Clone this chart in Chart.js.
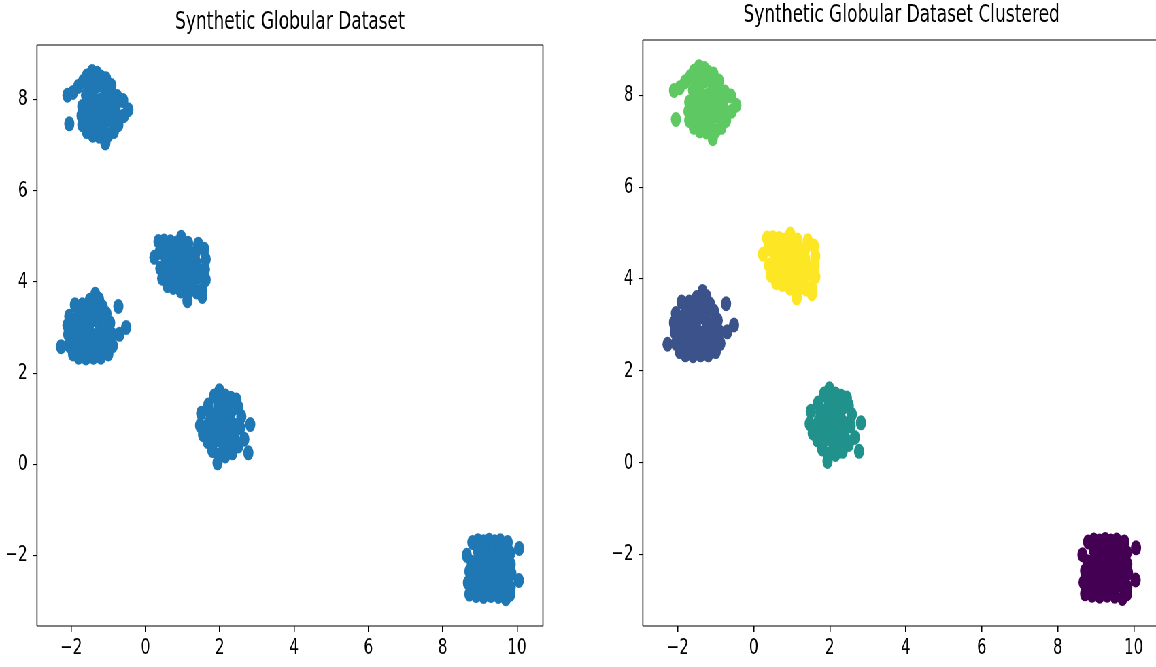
<!DOCTYPE html>
<html>
<head>
<meta charset="utf-8">
<script src="https://cdn.jsdelivr.net/npm/chart.js@4"></script>
<style>
  html, body { margin: 0; padding: 0; background: #fff; overflow: hidden; width: 1156px; height: 667px; }
  /* the reference figure is squeezed sideways, so draw wide and squeeze it */
  #stage { position: absolute; left: 0; top: 0; width: 1700px; height: 667px; transform: scaleX(0.68); transform-origin: 0 0; }
  canvas { position: absolute; top: 0; }
</style>
</head>
<body>
<div id="stage">
  <canvas id="plainChart" width="814" height="667" style="left:0px"></canvas>
  <canvas id="clusterChart" width="831" height="667" style="left:891px"></canvas>
</div>
<script>
// points, one array per blob
const blobA = [ // top left, cluster 3
  [-1.44, 8.62], [-1.3, 8.58], [-1.58, 8.52], [-1.06, 8.46], [-1.2, 8.5], [-1.81, 8.29], [-1.68, 8.4],
  [-2.1, 8.1], [-1.95, 8.16], [-0.92, 8.31], [-0.76, 8.07], [-0.6, 7.98], [-0.46, 7.78], [-0.58, 7.65],
  [-0.73, 7.45], [-0.85, 7.3], [-1.08, 7.05], [-1.0, 7.22], [-1.25, 7.2], [-1.42, 7.22], [-1.58, 7.3],
  [-1.7, 7.45], [-1.72, 7.65], [-1.7, 7.85], [-2.05, 7.47],
  [-1.5, 8.3], [-1.3, 8.3], [-1.1, 8.25], [-0.9, 8.1], [-1.6, 8.1], [-1.4, 8.05], [-1.2, 8.0],
  [-1.0, 7.95], [-0.8, 7.85], [-1.55, 7.85], [-1.35, 7.8], [-1.15, 7.75], [-0.95, 7.7], [-0.75, 7.65],
  [-1.5, 7.6], [-1.3, 7.55], [-1.1, 7.5], [-0.9, 7.5], [-1.55, 7.45], [-1.35, 7.35], [-1.15, 7.35],
  [-1.2, 7.6], [-1.4, 8.45], [-1.0, 8.1], [-1.3, 7.9]
];
const blobB = [ // middle left, cluster 1
  [-1.35, 3.73], [-1.25, 3.62], [-1.5, 3.6], [-1.7, 3.5], [-1.9, 3.5], [-0.73, 3.46], [-2.05, 3.25],
  [-2.1, 3.05], [-2.08, 2.85], [-2.05, 2.6], [-2.27, 2.58], [-1.95, 2.42], [-1.8, 2.35], [-1.6, 2.33],
  [-1.4, 2.35], [-1.2, 2.35], [-1.0, 2.42], [-0.88, 2.6], [-0.52, 3.0], [-0.7, 2.85], [-0.9, 2.85],
  [-0.95, 3.1], [-1.05, 3.3], [-1.15, 3.45],
  [-1.8, 3.3], [-1.6, 3.35], [-1.4, 3.4], [-1.25, 3.3], [-1.85, 3.1], [-1.65, 3.1], [-1.45, 3.15],
  [-1.25, 3.1], [-1.1, 3.0], [-1.9, 2.9], [-1.7, 2.9], [-1.5, 2.9], [-1.3, 2.85], [-1.1, 2.8],
  [-1.85, 2.7], [-1.65, 2.65], [-1.45, 2.7], [-1.25, 2.65], [-1.05, 2.65], [-1.75, 2.5], [-1.55, 2.5],
  [-1.35, 2.5], [-1.15, 2.5], [-1.5, 3.5], [-1.35, 3.55]
];
const blobC = [ // centre, cluster 4
  [0.35, 4.89], [0.5, 4.9], [0.67, 4.88], [0.96, 4.98], [0.82, 4.85], [1.15, 4.85], [1.42, 4.83],
  [1.58, 4.72], [1.62, 4.5], [1.6, 4.28], [1.62, 4.05], [1.53, 3.82], [1.53, 3.68], [1.38, 3.78],
  [1.13, 3.59], [0.95, 3.8], [0.75, 3.88], [0.59, 3.92], [0.45, 4.08], [0.4, 4.3], [0.24, 4.54], [0.38, 4.65],
  [0.55, 4.7], [0.75, 4.7], [0.95, 4.72], [1.15, 4.68], [1.35, 4.65], [0.55, 4.5], [0.75, 4.5],
  [0.95, 4.5], [1.15, 4.5], [1.35, 4.45], [0.6, 4.3], [0.8, 4.3], [1.0, 4.3], [1.2, 4.3], [1.4, 4.3],
  [0.65, 4.1], [0.85, 4.1], [1.05, 4.1], [1.25, 4.1], [1.4, 4.1], [0.85, 3.9], [1.05, 3.92],
  [1.25, 3.9], [1.15, 3.75]
];
const blobD = [ // lower centre, cluster 2
  [1.99, 1.61], [1.85, 1.5], [2.15, 1.5], [2.45, 1.41], [1.69, 1.3], [1.5, 1.12], [1.47, 0.85],
  [1.55, 0.65], [1.67, 0.5], [1.8, 0.3], [1.95, 0.2], [1.94, 0.03], [2.15, 0.18], [2.34, 0.25],
  [2.5, 0.4], [2.77, 0.25], [2.66, 0.55], [2.82, 0.87], [2.55, 0.8], [2.58, 1.05], [2.5, 1.25], [2.3, 1.45],
  [1.75, 1.1], [1.95, 1.2], [2.15, 1.25], [2.35, 1.2], [1.7, 0.9], [1.9, 0.95], [2.1, 1.0],
  [2.3, 0.95], [2.45, 0.85], [1.75, 0.7], [1.95, 0.75], [2.15, 0.75], [2.35, 0.7], [1.85, 0.5],
  [2.05, 0.5], [2.25, 0.5], [2.4, 0.55], [2.1, 0.3], [1.95, 1.4], [2.15, 1.1]
];
const blobE = [ // bottom right, cluster 0
  [8.65, -2.0], [8.8, -1.72], [8.95, -1.68], [9.1, -1.7], [9.25, -1.67], [9.4, -1.7], [9.55, -1.68],
  [9.75, -1.72], [10.06, -1.85], [9.82, -1.95], [9.83, -2.2], [9.85, -2.4], [10.05, -2.55], [9.83, -2.7],
  [9.82, -2.85], [9.7, -2.95], [9.5, -2.9], [9.3, -2.88], [9.1, -2.9], [8.9, -2.88], [8.72, -2.85],
  [8.68, -2.6], [8.72, -2.35], [8.78, -2.15],
  [8.95, -1.9], [9.15, -1.88], [9.35, -1.9], [9.55, -1.88], [9.7, -2.0], [8.95, -2.1], [9.15, -2.1],
  [9.35, -2.1], [9.55, -2.1], [9.7, -2.25], [8.9, -2.3], [9.1, -2.3], [9.3, -2.3], [9.5, -2.3],
  [9.68, -2.45], [8.9, -2.5], [9.1, -2.5], [9.3, -2.5], [9.5, -2.5], [8.9, -2.7], [9.1, -2.7],
  [9.3, -2.7], [9.5, -2.7], [9.65, -2.65]
];

const blobs = [blobE, blobB, blobD, blobA, blobC];          // in cluster label order 0..4
const clusterColors = ['#440154', '#3b528b', '#21918c', '#5ec962', '#fde725'];
const plainColor = '#1f77b4';
const xTicks = [-2, 0, 2, 4, 6, 8, 10];
const yTicks = [-2, 0, 2, 4, 6, 8];

const toPoints = arr => arr.map(p => ({ x: p[0], y: p[1] }));
const minus = v => String(v).replace('-', '\u2212');

// matplotlib style box round the plot area
const framePlugin = {
  id: 'frame',
  afterDraw(chart) {
    const a = chart.chartArea;
    const ctx = chart.ctx;
    ctx.save();
    ctx.strokeStyle = '#000';
    ctx.lineWidth = 1.1;
    ctx.beginPath();
    ctx.moveTo(a.left, a.top); ctx.lineTo(a.right, a.top);
    ctx.moveTo(a.left, a.bottom); ctx.lineTo(a.right, a.bottom);
    ctx.stroke();
    ctx.lineWidth = 1.6;
    ctx.beginPath();
    ctx.moveTo(a.left, a.top); ctx.lineTo(a.left, a.bottom);
    ctx.moveTo(a.right, a.top); ctx.lineTo(a.right, a.bottom);
    ctx.stroke();
    ctx.restore();
  }
};

function makeOptions(title, padTop, padBottom, rightPad) {
  const tickFont = { family: 'DejaVu Sans', size: 22 };
  return {
    responsive: false,
    animation: false,
    layout: { padding: { left: 0, right: rightPad, top: 0, bottom: 0 } },
    plugins: {
      legend: { display: false },
      tooltip: { enabled: false },
      title: {
        display: true,
        fullSize: false, // centre the title over the plot area, not the canvas
        text: title,
        color: '#000',
        font: { family: 'DejaVu Sans', size: 25, weight: 'normal' },
        padding: { top: padTop, bottom: padBottom }
      }
    },
    scales: {
      x: {
        type: 'linear',
        min: -2.92,
        max: 10.7,
        afterBuildTicks: s => { s.ticks = xTicks.map(v => ({ value: v })); },
        afterFit: s => { s.height = 41; },
        ticks: { color: '#000', font: tickFont, padding: 3, maxRotation: 0, callback: minus },
        grid: { drawOnChartArea: false, tickLength: 6, color: '#000', lineWidth: 1.5 },
        border: { display: false }
      },
      y: {
        type: 'linear',
        min: -3.55,
        max: 9.2,
        afterBuildTicks: s => { s.ticks = yTicks.map(v => ({ value: v })); },
        afterFit: s => { s.width = 54.4; },
        ticks: { color: '#000', font: tickFont, padding: 8, callback: minus },
        grid: { drawOnChartArea: false, tickLength: 6, color: '#000', lineWidth: 1.1 },
        border: { display: false }
      }
    }
  };
}

new Chart(document.getElementById('plainChart'), {
  type: 'scatter',
  data: {
    datasets: [{
      data: toPoints(blobs.flat()),
      backgroundColor: plainColor,
      borderWidth: 0,
      pointRadius: 7.5
    }]
  },
  options: makeOptions('Synthetic Globular Dataset', 7, 8, 15.5),
  plugins: [framePlugin]
});

new Chart(document.getElementById('clusterChart'), {
  type: 'scatter',
  data: {
    datasets: blobs.map((b, i) => ({
      data: toPoints(b),
      backgroundColor: clusterColors[i],
      borderWidth: 0,
      pointRadius: 7.5
    }))
  },
  options: makeOptions('Synthetic Globular Dataset Clustered', 0, 10, 15.6),
  plugins: [framePlugin]
});
</script>
</body>
</html>
